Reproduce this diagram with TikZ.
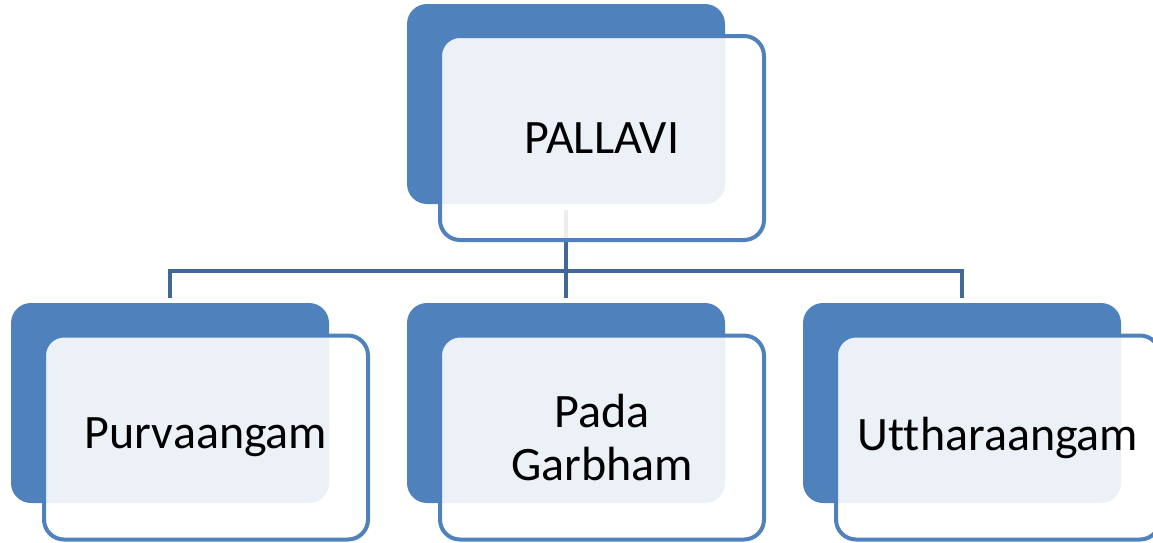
\documentclass[tikz,border=0pt]{standalone}
\usepackage{fontspec}
\setmainfont{Carlito}[Ligatures={NoCommon}]
\usepackage{tikz}
\usetikzlibrary{positioning, calc}
\definecolor{boxblue}{RGB}{79, 129, 189}
\definecolor{linkblue}{RGB}{64, 104, 152}

\tikzset{
  backbox/.style={fill=boxblue, rounded corners=20pt, minimum width=318pt, minimum height=200pt, inner sep=0pt},
  frontbox/.style={draw=boxblue, line width=4pt, fill=white, fill opacity=0.89, text opacity=1,
    rounded corners=20pt, minimum width=324pt, minimum height=204pt, inner sep=0pt, align=center,
    font=\fontsize{48}{52}\selectfont},
  link/.style={draw=linkblue, line width=4.5pt, shorten <=6pt, shorten >=5pt}
}

\begin{document}
\begin{tikzpicture}[x=1pt, y=-1pt]
\useasboundingbox (0,0) rectangle (1153,542);
\clip (0,0) rectangle (1153,542);

% back cards
\node[backbox] (pallavi-back) at (566, 104) {};
\node[backbox] (purva-back) at (170, 403) {};
\node[backbox] (pada-back) at (566, 403) {};
\node[backbox] (uttara-back) at (962, 403) {};

% connectors
\draw[link] (pallavi-back.south) -- ++(0,67) -| (purva-back.north);
\draw[link] (pallavi-back.south) -- ++(0,67) -| (uttara-back.north);
\draw[link] (pallavi-back.south) -- (pada-back.north);

% front cards
\node[frontbox] (pallavi) at (602, 138) {PALLAVI};
\node[frontbox] (purva) at (206, 437.5) {Purvaangam};
\node[frontbox] (pada) at (602, 437.5) {Pada\\Garbham};
\node[frontbox] (uttara) at (998, 437.5) {Uttharaangam};

\end{tikzpicture}
\end{document}
